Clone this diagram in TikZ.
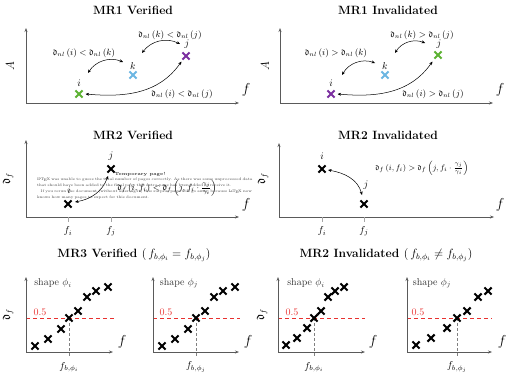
\documentclass[tikz,border=0pt]{standalone}
\usepackage{amsmath,amssymb}
\usetikzlibrary{arrows.meta,positioning,shapes.misc}
\definecolor{Axis}{HTML}{5A5A5A}
\definecolor{GreenPt}{HTML}{5DB233}
\definecolor{BluePt}{HTML}{6CB6E2}
\definecolor{PurplePt}{HTML}{7B2FA0}
\definecolor{Thresh}{HTML}{E8312F}
\newcommand{\dd}{\mathfrak{d}}

\begin{document}
\begin{tikzpicture}[x=1pt,y=-1pt,
  axisln/.style={{Stealth[length=4pt,width=3pt]}-{Stealth[length=4pt,width=3pt]},draw=Axis,line width=0.6pt},
  pt/.style={cross out,draw=#1,line width=2.1pt,minimum size=5pt,inner sep=0pt},
  pt/.default=black,
  rel/.style={{Stealth[length=3.5pt,width=3pt]}-{Stealth[length=3.5pt,width=3pt]},line width=0.5pt},
  ttl/.style={font=\large\bfseries},
  lbl/.style={font=\small,inner sep=1pt},
  xlab/.style={font=\Large},
  tickln/.style={draw=gray!70,line width=0.5pt},
  thr/.style={draw=Thresh,line width=0.9pt,dash pattern=on 4pt off 3pt},
  drop/.style={draw=gray,line width=0.6pt,dash pattern=on 3pt off 2pt}
]
\useasboundingbox (0,0) rectangle (510,378);

% MR1 verified
\node[ttl] (t1) at (133,10) {MR1 Verified};
\draw[axisln] (26,28) |- (239,103);
\node[font=\large,rotate=90] (ya1) at (10,66) {$A$};
\node[xlab] (xa1) at (246,90) {$f$};
\node[pt=GreenPt] (i1) at (79,94) {};
\node[pt=BluePt] (k1) at (133,75) {};
\node[pt=PurplePt] (j1) at (186,56) {};
\node[inner sep=1pt] (li1) at (79,83) {$i$};
\node[inner sep=1pt] (lk1) at (133,66) {$k$};
\node[inner sep=1pt] (lj1) at (187,44) {$j$};
\node[lbl] (r1a) at (84,53) {$\dd_{nl}\left(i\right) < \dd_{nl}\left(k\right)$};
\node[lbl] (r1b) at (170,35) {$\dd_{nl}\left(k\right) < \dd_{nl}\left(j\right)$};
\node[lbl] (r1c) at (182,94) {$\dd_{nl}\left(i\right) < \dd_{nl}\left(j\right)$};
\draw[rel] ([shift={(9,-21)}]i1.center) to[bend left=40] ([shift={(-10,-13)}]k1.center);
\draw[rel] ([shift={(9,-22)}]k1.center) to[bend left=40] ([shift={(-6,-12)}]j1.center);
\draw[rel] ([xshift=3pt]i1.east) to[out=-5,in=-125] ([shift={(-1,2)}]j1.south west);

% MR1 invalidated
\node[ttl] (t2) at (388,10) {MR1 Invalidated};
\draw[axisln] (280,28) |- (493,103);
\node[font=\large,rotate=90] (ya2) at (265,66) {$A$};
\node[xlab] (xa2) at (500,90) {$f$};
\node[pt=PurplePt] (i2) at (331,94) {};
\node[pt=BluePt] (k2) at (385,75) {};
\node[pt=GreenPt] (j2) at (438,55) {};
\node[inner sep=1pt] (li2) at (331,83) {$i$};
\node[inner sep=1pt] (lk2) at (385,66) {$k$};
\node[inner sep=1pt] (lj2) at (439,44) {$j$};
\node[lbl] (r2a) at (336,53) {$\dd_{nl}\left(i\right) > \dd_{nl}\left(k\right)$};
\node[lbl] (r2b) at (422,35) {$\dd_{nl}\left(k\right) > \dd_{nl}\left(j\right)$};
\node[lbl] (r2c) at (433,94) {$\dd_{nl}\left(i\right) > \dd_{nl}\left(j\right)$};
\draw[rel] ([shift={(11,-19)}]i2.center) to[bend left=40] ([shift={(-10,-12)}]k2.center);
\draw[rel] ([shift={(10,-22)}]k2.center) to[bend left=40] ([shift={(-13,-12)}]j2.center);
\draw[rel] ([xshift=3pt]i2.east) to[out=-5,in=-125] ([shift={(-2,3)}]j2.south west);

% MR2 verified
\node[ttl] (t3) at (133,135) {MR2 Verified};
\draw[axisln] (26,140) |- (239,217);
\node[font=\large,rotate=90] (ya3) at (8,179) {$\dd_f$};
\node[xlab] (xa3) at (246,205) {$f$};
\node[pt] (i3) at (68,204) {};
\node[pt] (j3) at (111,169) {};
\node[inner sep=1pt] (li3) at (69,190) {$i$};
\node[inner sep=1pt] (lj3) at (111,156) {$j$};
\draw[tickln] (68,217) -- (68,222);
\draw[tickln] (111,217) -- (111,222);
\node (fi3) at (68,231) {$f_i$};
\node (fj3) at (111,231) {$f_j$};
\node[lbl] (r3) at (167,188) {$\dd_f\left(i,f_i\right) < \dd_f\left(j,f_i\cdot\frac{\gamma_j}{\gamma_i}\right)$};
\draw[rel] ([shift={(-3,7)}]j3.center) to[out=-110,in=10] ([shift={(7,-2)}]i3.center);
\node[font=\fontsize{4.5}{5}\selectfont\bfseries,text=black!80,inner sep=0pt] (tmph) at (140,174) {Temporary page!};
\node[text width=216pt,font=\fontsize{3.7}{6.2}\selectfont,text=black!75,inner sep=0pt,anchor=north] (tmp) at (145,177.5)
  {\LaTeX{} was unable to guess the total number of pages correctly. As there was some unprocessed data that should have been added to the final page this extra page has been added to receive it.\par
  \hspace*{1em}If you rerun the document (without altering it) this surplus page will go away, because \LaTeX{} now knows how many pages to expect for this document.};

% MR2 invalidated
\node[ttl] (t4) at (388,135) {MR2 Invalidated};
\draw[axisln] (279,143) |- (494,217);
\node[font=\large,rotate=90] (ya4) at (263,179) {$\dd_f$};
\node[xlab] (xa4) at (500,205) {$f$};
\node[pt] (i4) at (322,169) {};
\node[pt] (j4) at (364,204) {};
\node[inner sep=1pt] (li4) at (322,156) {$i$};
\node[inner sep=1pt] (lj4) at (366,185) {$j$};
\draw[tickln] (322,217) -- (322,222);
\draw[tickln] (364,217) -- (364,222);
\node (fi4) at (322,231) {$f_i$};
\node (fj4) at (364,231) {$f_j$};
\node[font=\footnotesize,inner sep=1pt] (r4) at (422,168) {$\dd_f\left(i,f_i\right) > \dd_f\left(j,f_i\cdot\frac{\gamma_j}{\gamma_i}\right)$};
\draw[rel] ([shift={(6,1)}]i4.center) to[out=-10,in=105] ([shift={(-2,-9)}]j4.center);

% MR3 verified
\node (t5) at (134,255) {\large\bfseries MR3 Verified \mdseries(\,$f_{b,\phi_i} = f_{b,\phi_j}$)};
\node (t6) at (386,255) {\large\bfseries MR2 Invalidated \mdseries(\,$f_{b,\phi_i} \neq f_{b,\phi_j}$)};
\node[font=\large,rotate=90] (ya5) at (8,315) {$\dd_f$};
\node[font=\large,rotate=90] (ya6) at (262,315) {$\dd_f$};

\draw[thr] (26,318) -- (115,318);
\draw[drop] (69,318) -- (69,357);
\draw[axisln] (26,277) |- (113,352);
\node[text=Thresh] (h5) at (40,312) {0.5};
\node[text=black!80] (s5) at (53,283) {shape $\phi_i$};
\node[xlab] (xa5) at (122,342) {$f$};
\node (b5) at (69,367) {$f_{b,\phi_i}$};
\foreach \x/\y [count=\n] in {35/346,48/339,61/329,69/318,78/311,87/297,96/291,108/287}
  \node[pt] (a\n) at (\x,\y) {};

\draw[thr] (153,318) -- (240,318);
\draw[drop] (196,318) -- (196,357);
\draw[axisln] (153,277) |- (239,352);
\node[text=Thresh] (h6) at (166,312) {0.5};
\node[text=black!80] (s6) at (179,283) {shape $\phi_j$};
\node[xlab] (xa6) at (248,342) {$f$};
\node (b6) at (196,367) {$f_{b,\phi_j}$};
\foreach \x/\y [count=\n] in {162/346,175/339,188/329,196/318,205/311,214/297,223/291,235/287}
  \node[pt] (b\n) at (\x,\y) {};

% MR2 invalidated, shapes
\draw[thr] (278,318) -- (365,318);
\draw[drop] (314,318) -- (314,357);
\draw[axisln] (278,277) |- (365,352);
\node[text=Thresh] (h7) at (292,312) {0.5};
\node[text=black!80] (s7) at (306,283) {shape $\phi_i$};
\node[xlab] (xa7) at (373,342) {$f$};
\node (b7) at (314,367) {$f_{b,\phi_i}$};
\foreach \x/\y [count=\n] in {286/345,297/338,307/328,314/318,321/311,328/297,335/291,344/287}
  \node[pt] (c\n) at (\x,\y) {};

\draw[thr] (407,318) -- (492,318);
\draw[drop] (457,318) -- (457,357);
\draw[axisln] (407,277) |- (492,352);
\node[text=Thresh] (h8) at (418,312) {0.5};
\node[text=black!80] (s8) at (432,283) {shape $\phi_j$};
\node[xlab] (xa8) at (502,342) {$f$};
\node (b8) at (457,367) {$f_{b,\phi_j}$};
\foreach \x/\y [count=\n] in {416/345,431/338,447/328,457/318,467/311,478/297,488/291}
  \node[pt] (d\n) at (\x,\y) {};
\end{tikzpicture}
\end{document}
